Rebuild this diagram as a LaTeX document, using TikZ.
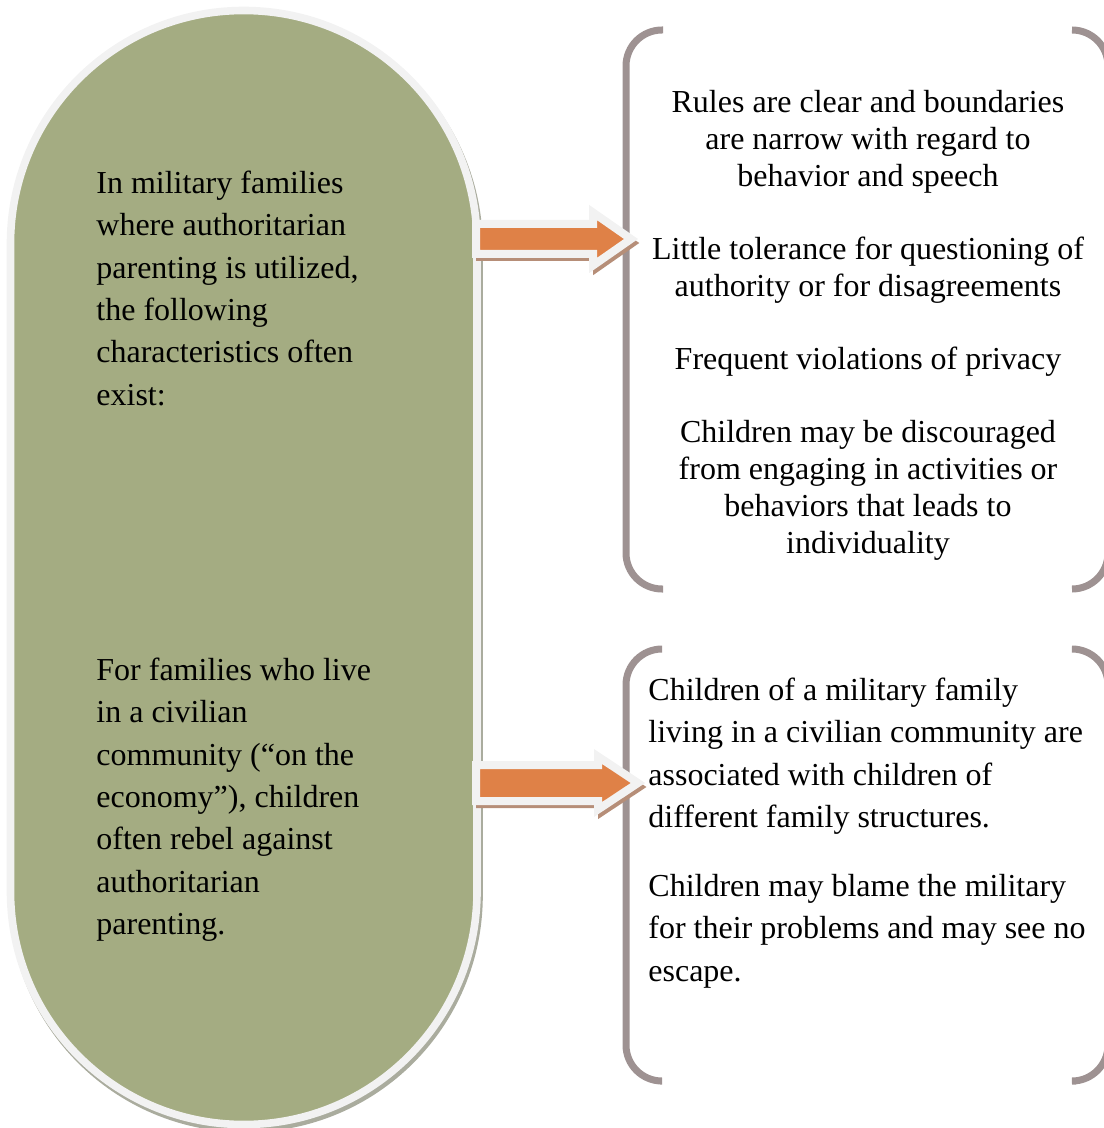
\documentclass[tikz,border=0pt]{standalone}
\usepackage{fontspec}
\setmainfont{Liberation Serif}

\definecolor{pillgreen}{RGB}{164,172,130}
\definecolor{pillrim}{RGB}{242,242,242}
\definecolor{pillshadow}{RGB}{170,172,158}
\definecolor{bracketgray}{RGB}{158,146,146}
\definecolor{arroworange}{RGB}{223,129,71}
\definecolor{arrowshadow}{RGB}{182,142,120}

\tikzset{
  bracketline/.style={draw=bracketgray, line width=3.5pt, rounded corners=18pt},
  blockarrow/.style={fill=arroworange, draw=pillrim, line width=4pt, miter limit=10},
  blockshadow/.style={fill=arrowshadow, draw=arrowshadow, line width=3pt, miter limit=10},
  sidetext/.style={inner sep=0pt, anchor=north west, align=left,
    font=\fontsize{16}{21.2}\selectfont},
  listtext/.style={inner sep=0pt, anchor=north, align=center,
    font=\fontsize{16}{18.5}\selectfont}
}

\begin{document}
\begin{tikzpicture}[x=0.5pt,y=-0.5pt]
\useasboundingbox (0,0) rectangle (1103,1128);

% the pill on the left and its shadow
\filldraw[fill=pillshadow, draw=pillshadow, line width=3.8pt, rounded corners=116.5pt,
  shift={(2,4)}] (10.5,10.5) rectangle (477,1124.5);
\filldraw[fill=pillgreen, draw=pillrim, line width=3.8pt, rounded corners=116.5pt]
  (10.5,10.5) rectangle (477,1124.5);

% brackets round the two lists
\foreach \top/\bot/\ll/\rr in {30/589/663/1072, 649/1081/660/1076}{% left and right half
    \draw[bracketline] (\ll,\top) -| (626,\bot) -- (\ll,\bot);
    \draw[bracketline] (\rr,\top) -| (1108,\bot) -- (\rr,\bot);}

% the two block arrows
\foreach \yc/\bh/\hx/\tx in {239/15/593/631, 783/18/598/638}{% centre, half body, head, tip
    \filldraw[blockshadow, shift={(3,4)}] (476,\yc-\bh) -- (\hx,\yc-\bh) -- (\hx,\yc-26.5)
      -- (\tx,\yc) -- (\hx,\yc+26.5) -- (\hx,\yc+\bh) -- (476,\yc+\bh) -- cycle;
    \filldraw[blockarrow] (476,\yc-\bh) -- (\hx,\yc-\bh) -- (\hx,\yc-26.5)
      -- (\tx,\yc) -- (\hx,\yc+26.5) -- (\hx,\yc+\bh) -- (476,\yc+\bh) -- cycle;}

\node[sidetext] (authtext) at (96,163.3) {\strut In military families\\
  where authoritarian\\ parenting is utilized,\\ the following\\
  characteristics often\\ exist:};
\node[sidetext] (civtext) at (96,650.3) {\strut For families who live\\
  in a civilian\\ community (``on the\\ economy''), children\\
  often rebel against\\ authoritarian\\ parenting.};

\node[listtext] (authlist) at (868,86.1) {\strut Rules are clear and boundaries\\
  are narrow with regard to\\ behavior and speech\\[18pt]
  Little tolerance for questioning of\\ authority or for disagreements\\[18pt]
  Frequent violations of privacy\\[18pt]
  Children may be discouraged\\ from engaging in activities or\\
  behaviors that leads to\\ individuality};
\node[sidetext] (civlist) at (648,670.3) {\strut Children of a military family\\
  living in a civilian community are\\ associated with children of\\
  different family structures.\\[13.3pt]
  Children may blame the military\\ for their problems and may see no\\
  escape.};

\end{tikzpicture}
\end{document}
